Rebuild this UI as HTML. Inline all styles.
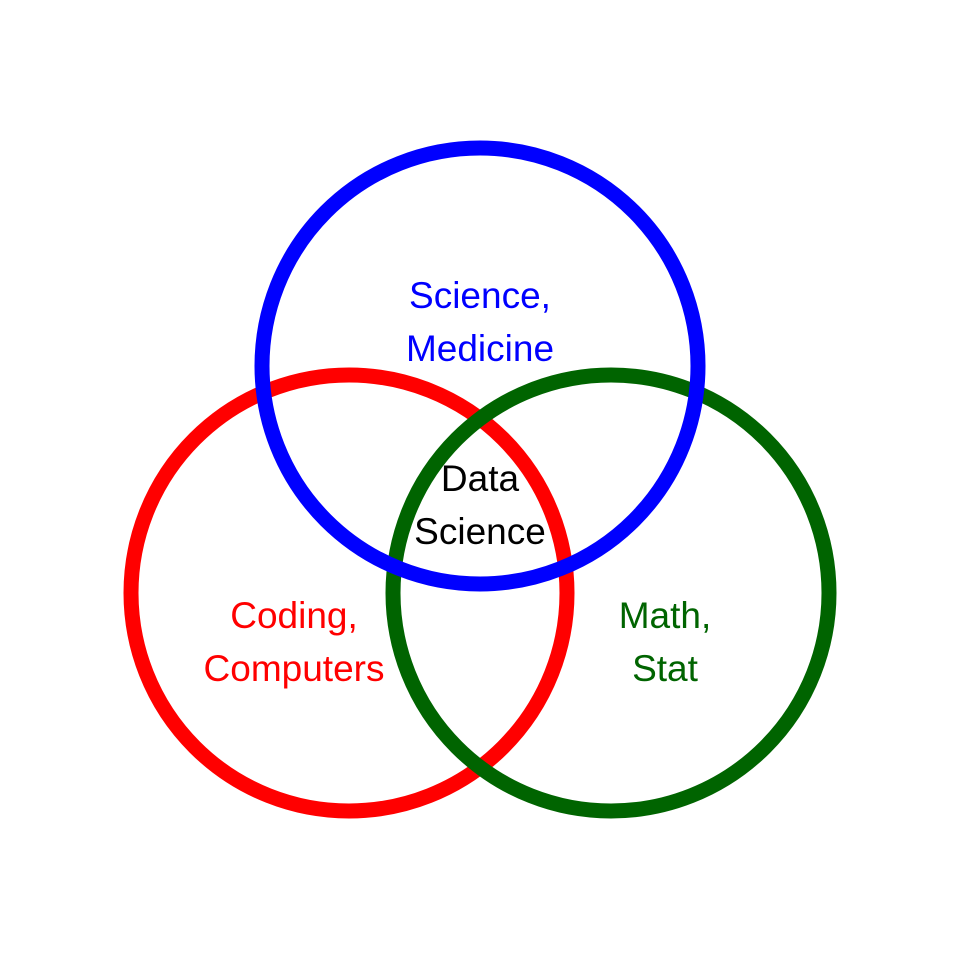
<!DOCTYPE html>
<html><head><meta charset="utf-8"><style>html,body{margin:0;padding:0;background:#fff}</style></head>
<body>
<svg width="960" height="960" viewBox="0 0 960 960" xmlns="http://www.w3.org/2000/svg">
<rect width="960" height="960" fill="#fff"/>
<circle cx="349" cy="593" r="218" fill="none" stroke="#ff0000" stroke-width="15"/>
<circle cx="611" cy="593" r="218" fill="none" stroke="#006400" stroke-width="15"/>
<circle cx="480" cy="366" r="218" fill="none" stroke="#0000ff" stroke-width="15"/>
<g font-family="Liberation Sans, Arial, sans-serif" font-size="37" text-anchor="middle">
<text x="480" y="308" fill="#0000ff">Science,</text>
<text x="480" y="361" fill="#0000ff">Medicine</text>
<text x="480" y="491" fill="#000">Data</text>
<text x="480" y="544" fill="#000">Science</text>
<text x="294" y="628" fill="#ff0000">Coding,</text>
<text x="294" y="681" fill="#ff0000">Computers</text>
<text x="665" y="628" fill="#006400">Math,</text>
<text x="665" y="681" fill="#006400">Stat</text>
</g>
</svg>
</body></html>
